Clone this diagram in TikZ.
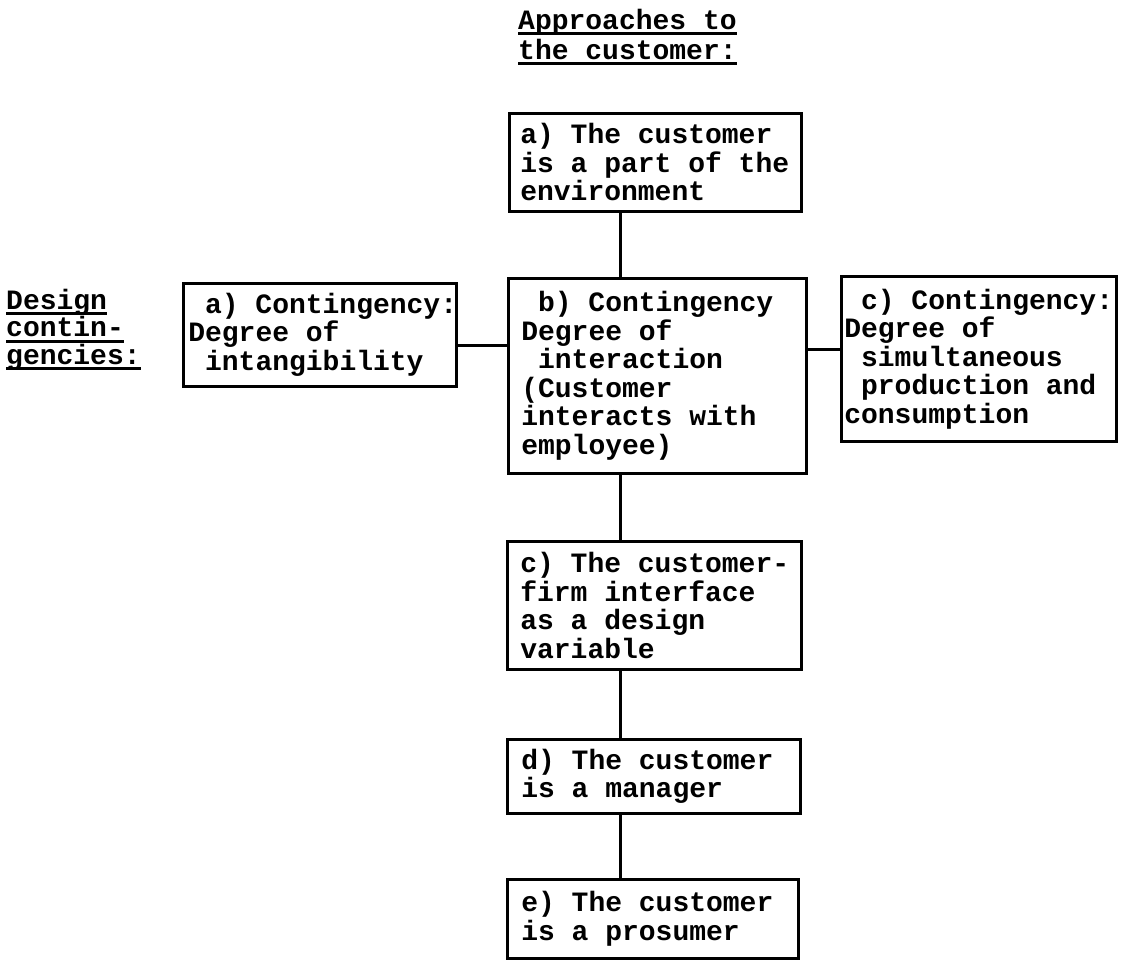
\documentclass[tikz,border=0pt]{standalone}
\usepackage{fontspec}
\setmonofont{Liberation Mono}
\usepackage{tikz}
\hyphenpenalty=10000
\newcommand{\indt}{\hphantom{x}}
\protected\def\monosp{\spaceskip=16.8pt\relax\xspaceskip=16.8pt\relax}
\newcommand{\undl}[1]{\setbox0=\hbox{#1}\rlap{\rule[-6pt]{\wd0}{3pt}}\box0}
\tikzset{
 box/.style={draw,line width=2.6pt,anchor=north west,align=flush left,inner ysep=0pt,
  font=\ttfamily\bfseries\fontsize{28}{28.5}\selectfont\monosp},
 link/.style={line width=3pt},
 heading/.style={anchor=north west,align=left,inner sep=0pt,
  font=\ttfamily\bfseries\fontsize{28}{30}\selectfont\monosp}
}
\begin{document}
\begin{tikzpicture}[x=1pt,y=-1pt]
\useasboundingbox (0,0) rectangle (1122,960);
%headings
\node[heading] (apphead) at (518,9) {\undl{Approaches to}\\\undl{the customer:}};
\node[heading,font=\ttfamily\bfseries\fontsize{28}{25}\selectfont\monosp] (deshead) at (6,289) {\undl{Design}\\\undl{contin-}\\\undl{gencies:}};
%approaches, column at x=506
\node[box,inner xsep=11pt,text width=270pt,minimum height=98pt] (custenv) at (508,112)
 {a) The customer\\is~a~part~of~the\\environment};
\node[box,inner xsep=13pt,text width=272pt,minimum height=195pt] (interact) at (507,277)
 {\indt b) Contingency\\Degree of\\\indt interaction\\(Customer\\interacts with\\employee)};
\node[box,inner xsep=13pt,text width=268pt,minimum height=128pt] (interface) at (506,540)
 {c)~The~customer-\\firm interface\\as a design\\variable};
\node[box,inner xsep=14pt,text width=265pt,minimum height=74pt] (manager) at (506,738)
 {d) The customer\\is a manager};
\node[box,inner xsep=14pt,text width=263pt,minimum height=79pt] (prosumer) at (506,878)
 {e) The customer\\is a prosumer};
%contingencies left and right
\node[box,inner xsep=5pt,text width=263pt,minimum height=103pt] (intang) at (182,282)
 {\indt a)~Contingency:\\Degree of\\\indt intangibility};
\node[box,inner xsep=3pt,text width=269pt,minimum height=165pt] (simult) at (840,275)
 {\indt c)~Contingency:\\Degree of\\\indt simultaneous\\\indt production~and\\consumption};
%connectors
\coordinate (spine) at (620,0);
\coordinate (leftlvl) at (0,345);
\coordinate (rightlvl) at (0,349);
\draw[link] (custenv.south -| spine) -- (interact.north -| spine);
\draw[link] (interact.south -| spine) -- (interface.north -| spine);
\draw[link] (interface.south -| spine) -- (manager.north -| spine);
\draw[link] (manager.south -| spine) -- (prosumer.north -| spine);
\draw[link] (intang.east |- leftlvl) -- (interact.west |- leftlvl);
\draw[link] (interact.east |- rightlvl) -- (simult.west |- rightlvl);
\end{tikzpicture}
\end{document}
